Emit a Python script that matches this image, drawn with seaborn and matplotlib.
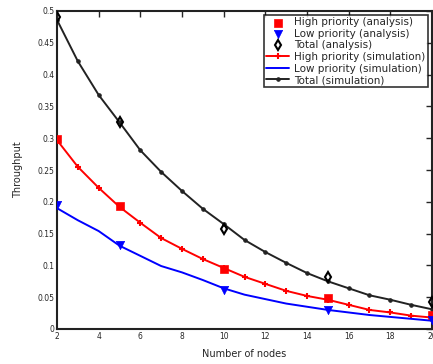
import numpy as np
import pandas as pd
import matplotlib
matplotlib.use("Agg")
import matplotlib.pyplot as plt
import seaborn as sns

# simulation: every node count 2..20
nodes = list(range(2, 21))
high_sim = [0.297, 0.255, 0.222, 0.192, 0.167, 0.143, 0.126, 0.110, 0.096, 0.082,
            0.071, 0.060, 0.052, 0.046, 0.038, 0.030, 0.026, 0.021, 0.018]
low_sim = [0.190, 0.171, 0.154, 0.131, 0.115, 0.099, 0.089, 0.077, 0.064, 0.054,
           0.047, 0.040, 0.035, 0.030, 0.026, 0.022, 0.019, 0.016, 0.013]
total_sim = [0.486, 0.421, 0.368, 0.325, 0.281, 0.247, 0.217, 0.189, 0.165, 0.140,
             0.121, 0.104, 0.088, 0.075, 0.064, 0.053, 0.046, 0.038, 0.031]

# analysis: a few node counts
nodes_an = [2, 5, 10, 15, 20]
high_an = [0.298, 0.193, 0.095, 0.048, 0.022]
low_an = [0.195, 0.132, 0.062, 0.030, 0.014]
total_an = [0.49, 0.325, 0.157, 0.082, 0.042]

sim = pd.DataFrame({"nodes": nodes, "high": high_sim, "low": low_sim, "total": total_sim})
an = pd.DataFrame({"nodes": nodes_an, "high": high_an, "low": low_an, "total": total_an})

sns.set_style("white")
plt.rcParams['font.family'] = ['DejaVu Sans']

fig = plt.figure(figsize=(4.33, 3.64), dpi=100)
ax = fig.add_axes([57 / 433, 35 / 364, 375 / 433, 318 / 364])

# analysis markers
sns.scatterplot(data=an, x="nodes", y="high", ax=ax, marker="s", color="red",
                s=36, edgecolor="red", label="High priority (analysis)", zorder=4)
sns.scatterplot(data=an, x="nodes", y="low", ax=ax, marker="v", color="blue",
                s=36, edgecolor="blue", label="Low priority (analysis)", zorder=4)
ax.plot(an["nodes"], an["total"], linestyle="none", marker="d", mfc="none",
        mec="black", mew=1.5, ms=5, label="Total (analysis)", zorder=4)

# simulation curves
sns.lineplot(data=sim, x="nodes", y="high", ax=ax, color="red", lw=1.4,
             marker="+", markersize=5, markeredgewidth=1.5, markeredgecolor="red",
             label="High priority (simulation)")
sns.lineplot(data=sim, x="nodes", y="low", ax=ax, color="blue", lw=1.4,
             label="Low priority (simulation)")
sns.lineplot(data=sim, x="nodes", y="total", ax=ax, color="#222222", lw=1.4,
             marker="o", markersize=2.5, markeredgecolor="#222222",
             label="Total (simulation)")

ax.set_xlim(2, 20)
ax.set_ylim(0, 0.5)
ax.set_xticks(range(2, 21, 2))
ax.set_yticks(np.arange(0, 0.51, 0.05))
ax.set_yticklabels(["0", "0.05", "0.1", "0.15", "0.2", "0.25", "0.3", "0.35",
                    "0.4", "0.45", "0.5"])
ax.tick_params(direction="in", length=4, width=1, labelsize=5.5,
               top=True, right=True, pad=2)
for sp in ax.spines.values():
    sp.set_linewidth(1.5)
    sp.set_color("#222222")

ax.set_xlabel("Number of nodes", fontsize=7, labelpad=6)
ax.set_ylabel("Throughput", fontsize=7, labelpad=10)

leg = ax.legend(loc="upper right", fontsize=7.5, frameon=True, fancybox=False,
                edgecolor="black", borderpad=0.2, labelspacing=0.15,
                handlelength=2.2, handletextpad=0.5, borderaxespad=0.4)
leg.get_frame().set_linewidth(1.2)

fig.savefig("out.png", dpi=100)
